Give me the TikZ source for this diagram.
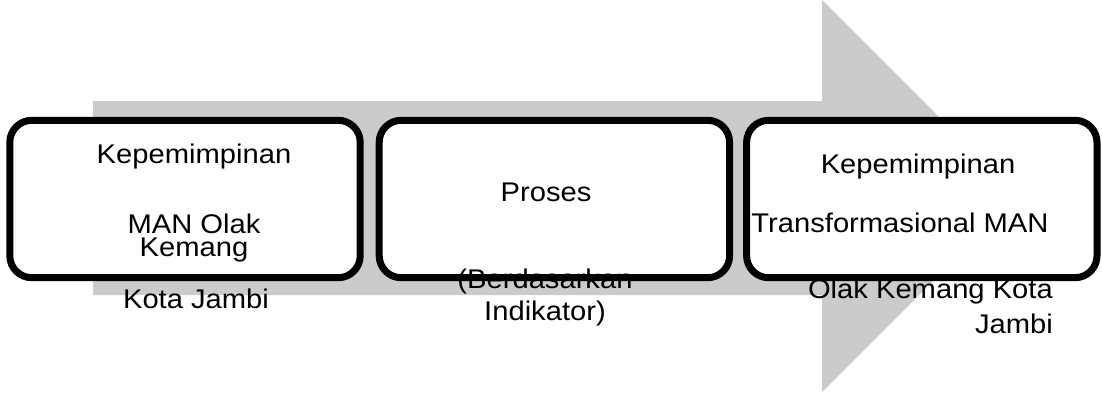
\documentclass[tikz,border=0pt]{standalone}
\usepackage{fontspec}
\setmainfont{Liberation Sans}[FakeStretch=1.08]
\usetikzlibrary{positioning,shadows}
\definecolor{flowGray}{HTML}{CBCBCB}

\begin{document}
\begin{tikzpicture}[x=1pt,y=-1pt,font=\fontsize{27}{31}\selectfont,
        stage/.style={rectangle,rounded corners=22pt,fill=white,inner sep=0pt,
                   minimum width=350pt,minimum height=157pt,
                   drop shadow={shadow xshift=0pt,shadow yshift=-3pt,opacity=0.3}},
        rim/.style={draw=black,line width=7pt,rounded corners=22pt},
        lbl/.style={inner sep=0pt,anchor=base}]
        \useasboundingbox (0,0) rectangle (1102,392);
        % big grey arrow behind the stages
        \fill[flowGray] (93,101) -- (822,101) -- (822,0) -- (1018,196)
              -- (822,392) -- (822,295) -- (93,295) -- cycle;
        \node[stage] (b1) at (185,199) {};
        \node[stage,right=19pt of b1] (b2) {};
        \node[stage,right=17pt of b2] (b3) {};
        % texts of the stages
        \node[lbl] (k1) at (194,163) {Kepemimpinan};
        \node[lbl] (m1) at (194,233) {MAN Olak};
        \node[lbl] (m2) at (194,256) {Kemang};
        \node[lbl] (j1) at (196,308) {Kota Jambi};
        \node[lbl] (p2) at (546,201) {Proses};
        \node[lbl] (d2) at (545,288) {(Berdasarkan};
        \node[lbl] (i2) at (545,320) {Indikator)};
        \node[lbl] (k3) at (918,173) {Kepemimpinan};
        \node[lbl] (t3) at (900,232) {Transformasional MAN};
        \node[lbl,anchor=base east] (o3) at (1053,298) {Olak Kemang Kota};
        \node[lbl,anchor=base east] (j3) at (1053,333) {Jambi};
        \foreach \b in {b1,b2,b3}
          \draw[rim] (\b.south west) rectangle (\b.north east);
      \end{tikzpicture}
\end{document}
